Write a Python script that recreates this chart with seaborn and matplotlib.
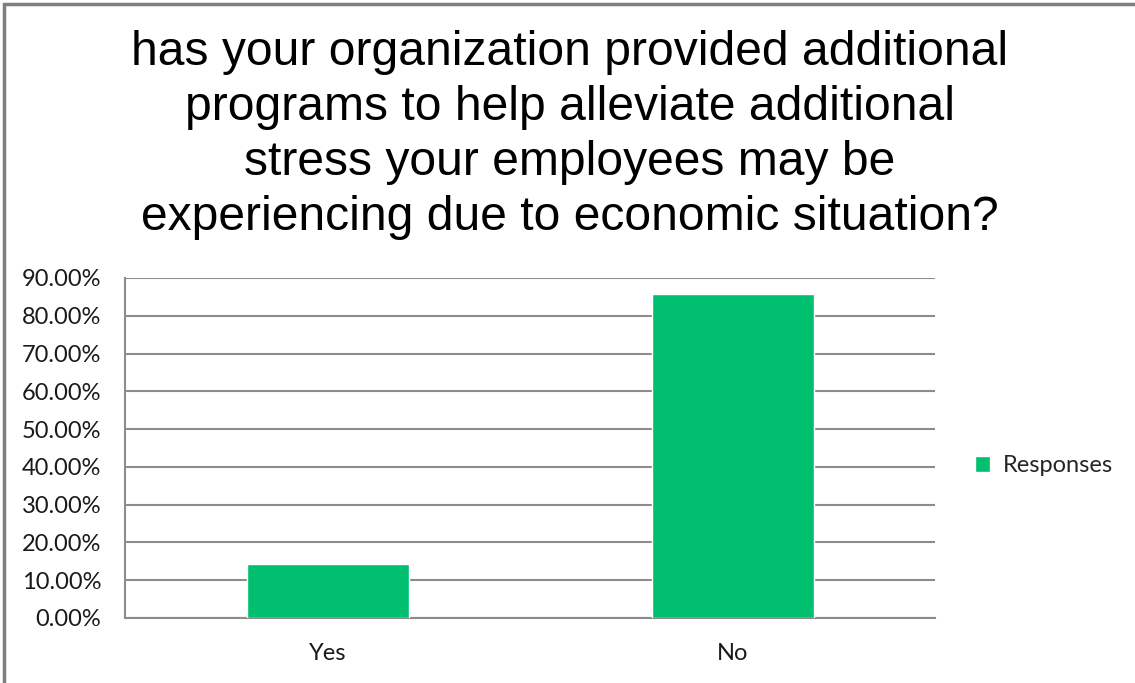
import matplotlib
matplotlib.use("Agg")
import matplotlib.pyplot as plt
import seaborn as sns
from matplotlib.ticker import FixedLocator, PercentFormatter
from matplotlib.patches import Rectangle

# --- data ---
categories = ["Yes", "No"]
responses = [0.1429, 0.8571]
series_name = "Responses"
y_ticks = [0.0, 0.1, 0.2, 0.3, 0.4, 0.5, 0.6, 0.7, 0.8, 0.9]
title_lines = [
    "has your organization provided additional",
    "programs to help alleviate additional",
    "stress your employees may be",
    "experiencing due to economic situation?",
]

bar_green = "#00BF6F"
grid_gray = "#8C8C8C"
label_font = ["Lato", "DejaVu Sans"]

sns.set_theme(style="white")
plt.rcParams["font.family"] = ["Liberation Sans", "DejaVu Sans"]

fig = plt.figure(figsize=(11.35, 6.83), dpi=100, facecolor="white")
ax = fig.add_axes([125 / 1135, 1 - 618 / 683, 810 / 1135, 340 / 683])

sns.barplot(x=categories, y=responses, color=bar_green, width=0.4,
            saturation=1, label=series_name, ax=ax, zorder=3)

ax.set_ylim(0, 0.9)
ax.set_xlim(-0.5, 1.5)
ax.yaxis.set_major_locator(FixedLocator(y_ticks))
ax.yaxis.set_major_formatter(PercentFormatter(1.0, decimals=2))
ax.grid(axis="y", color=grid_gray, linewidth=1.5, zorder=0)
ax.set_axisbelow(True)

for side in ["top", "right"]:
    ax.spines[side].set_visible(False)
for side in ["left", "bottom"]:
    ax.spines[side].set_color(grid_gray)
    ax.spines[side].set_linewidth(1.5)

# category boundaries carry the tick marks, labels sit in the middle
ax.xaxis.set_minor_locator(FixedLocator([-0.5, 0.5, 1.5]))
ax.tick_params(axis="x", which="major", length=0, pad=18)
ax.tick_params(axis="x", which="minor", length=5, width=1.5, color=grid_gray, direction="out")
ax.tick_params(axis="y", length=5, width=1.5, color=grid_gray, direction="out", pad=12)
for lab in ax.get_xticklabels() + ax.get_yticklabels():
    lab.set_family(label_font)
    lab.set_fontsize(17)
    lab.set_color("#1a1a1a")
ax.set_xlabel("")
ax.set_ylabel("")

leg = ax.legend(loc="center left", bbox_to_anchor=(975 / 1135, 1 - 466 / 683),
                bbox_transform=fig.transFigure, frameon=False, borderaxespad=0,
                borderpad=0, handlelength=0.65, handleheight=0.65, handletextpad=0.55,
                prop={"family": label_font, "size": 17})

fig.text(0.502, 1 - 135 / 683, "\n".join(title_lines), ha="center", va="center",
         fontsize=34.6, linespacing=1.28, color="black")

# outer chart border (only top and left edges visible in the crop)
fig.add_artist(Rectangle((4 / 1135, -0.05), 1.2, 1 - 4 / 683 + 0.05,
                         transform=fig.transFigure, fill=False,
                         edgecolor="#7f7f7f", linewidth=2.5))

fig.savefig("out.png", dpi=100, facecolor="white")
